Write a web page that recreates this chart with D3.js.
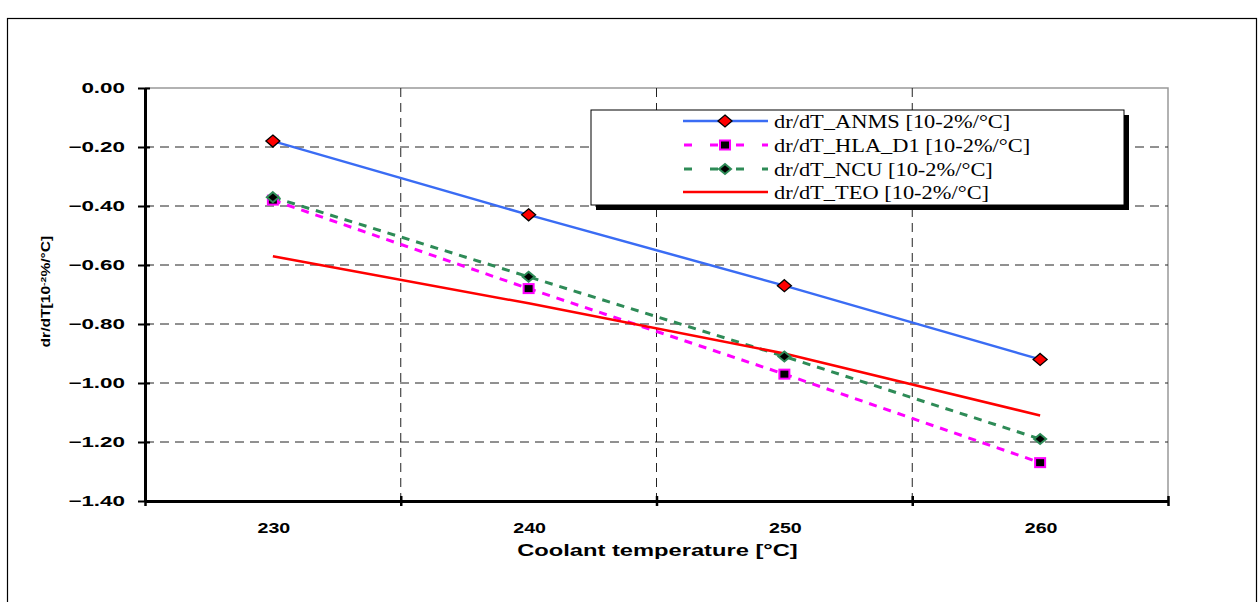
<!DOCTYPE html>
<html>
<head>
<meta charset="utf-8">
<script src="https://cdn.jsdelivr.net/npm/d3@7"></script>
<style>
    body { margin: 0; background: #fff; }
    .font { font-family: "Liberation Sans", Arial, sans-serif; }
    .y-tick-label { font-size: 14px; font-weight: bold; }
    .x-tick-label { font-size: 14px; font-weight: bold; }
    .axis-title { font-size: 16px; font-weight: bold; }
    .legend-text { font-family: "Liberation Serif", "Times New Roman", serif; font-size: 19px; }
</style>
</head>
<body>
<svg id="chart" width="1259" height="602"></svg>
<script>
const SVG_WIDTH = 1259;
const SVG_HEIGHT = 602;

// data
var temperatures = [230, 240, 250, 260];
var anmsValues = [-0.18, -0.43, -0.67, -0.92];
var hlaValues = [-0.38, -0.68, -0.97, -1.27];
var ncuValues = [-0.37, -0.64, -0.91, -1.19];
var teoValues = [-0.57, -0.73, -0.90, -1.11];
var seriesNames = ["dr/dT_ANMS [10-2%/°C]", "dr/dT_HLA_D1 [10-2%/°C]",
                   "dr/dT_NCU [10-2%/°C]", "dr/dT_TEO [10-2%/°C]"];
var yTickValues = [0, -0.2, -0.4, -0.6, -0.8, -1.0, -1.2, -1.4];
var xBoundaries = [225, 235, 245, 255, 265];

var seriesStyle = [
    {color: "#3a6cf4", dash: null, width: 2.5, marker: "diamond"},
    {color: "#ff00ff", dash: "8,7", width: 3, marker: "square"},
    {color: "#2e8b57", dash: "8,7", width: 3, marker: "smalldiamond"},
    {color: "#ff0000", dash: null, width: 2.5, marker: null}
];
var seriesValues = [anmsValues, hlaValues, ncuValues, teoValues];

// widen glyphs (the original text is horizontally stretched)
function stretch(sel, factor) {
    sel.each(function() {
        var len = this.getComputedTextLength();
        d3.select(this)
            .attr("textLength", len * factor)
            .attr("lengthAdjust", "spacingAndGlyphs");
    });
}

var svg = d3.select("#chart");

// outer frame
svg.append("rect")
    .attr("x", 7.5).attr("y", 18.5)
    .attr("width", 1249).attr("height", 600)
    .attr("fill", "none").attr("stroke", "#000").attr("stroke-width", 1.2);

var xScale = d3.scaleLinear().domain([225, 265]).range([145, 1168]);
var yScale = d3.scaleLinear().domain([-1.4, 0]).range([501, 88]);

// plot area border (top / right, gray)
svg.append("path")
    .attr("d", "M" + xScale(225) + "," + yScale(0) + "H" + xScale(265) + "V" + yScale(-1.4))
    .attr("fill", "none").attr("stroke", "#999").attr("stroke-width", 1.5);

// grid
var grid = svg.append("g");
grid.selectAll(".hgrid")
    .data(yTickValues.slice(1, -1))
    .enter().append("line")
    .attr("x1", xScale(225)).attr("x2", xScale(265))
    .attr("y1", d => yScale(d)).attr("y2", d => yScale(d))
    .attr("stroke", "#222").attr("stroke-width", 1).attr("stroke-dasharray", "9,6");
grid.selectAll(".vgrid")
    .data(xBoundaries.slice(1, -1))
    .enter().append("line")
    .attr("x1", d => xScale(d)).attr("x2", d => xScale(d))
    .attr("y1", yScale(0)).attr("y2", yScale(-1.4))
    .attr("stroke", "#222").attr("stroke-width", 1).attr("stroke-dasharray", "9,6");

// y axis
var yAxis = d3.axisLeft(yScale)
    .tickValues(yTickValues)
    .tickSizeInner(7)
    .tickSizeOuter(0)
    .tickPadding(13)
    .tickFormat(d3.format(".2f"));
var yAxisGroup = svg.append("g")
    .attr("transform", "translate(" + xScale(225) + ",0)")
    .classed("font", true)
    .call(yAxis);
yAxisGroup.select(".domain").attr("stroke-width", 3);
yAxisGroup.selectAll(".tick line").attr("stroke-width", 2).attr("x2", 5).attr("x1", -7);
var yTickText = yAxisGroup.selectAll(".tick text")
    .classed("y-tick-label", true).attr("fill", "#000")
    .text(d => d === 0 ? "0.00" : d3.format(".2f")(d));
stretch(yTickText, 1.6);

// x axis: ticks at category boundaries, labels centered
var xAxis = d3.axisBottom(xScale)
    .tickValues(xBoundaries)
    .tickSizeInner(5)
    .tickSizeOuter(0)
    .tickFormat("");
var xAxisGroup = svg.append("g")
    .attr("transform", "translate(0," + yScale(-1.4) + ")")
    .call(xAxis);
xAxisGroup.select(".domain").attr("stroke-width", 3);
xAxisGroup.selectAll(".tick line").attr("stroke-width", 2.5).attr("y1", -5).attr("y2", 5);

var xTickText = svg.append("g").selectAll("text")
    .data(temperatures)
    .enter().append("text")
    .classed("font x-tick-label", true)
    .attr("x", d => xScale(d) + 1)
    .attr("y", 533)
    .attr("text-anchor", "middle")
    .text(d => d);
stretch(xTickText, 1.4);

var xTitle = svg.append("text")
    .classed("font axis-title", true)
    .attr("x", xScale(245) + 1)
    .attr("y", 556)
    .attr("text-anchor", "middle")
    .text("Coolant temperature [°C]");
stretch(xTitle, 1.48);

var yLabel = svg.append("text")
    .classed("font", true)
    .attr("transform", "translate(50," + yScale(-0.69) + ") rotate(-90)")
    .attr("text-anchor", "middle")
    .style("font-size", "12px").style("font-weight", "bold");
yLabel.append("tspan").text("dr/dT[10");
yLabel.append("tspan").attr("baseline-shift", "super").style("font-size", "8px").text("-2");
yLabel.append("tspan").text("%/°C]");
stretch(yLabel, 1.3);

// markers
function drawMarker(g, type, x, y, color) {
    if (type === "diamond") {
        g.append("path")
            .attr("d", "M" + x + "," + (y - 6) + "L" + (x + 7) + "," + y + "L" + x + "," + (y + 6) + "L" + (x - 7) + "," + y + "Z")
            .attr("fill", "#ff0000").attr("stroke", "#000").attr("stroke-width", 1.3);
    } else if (type === "square") {
        g.append("rect")
            .attr("x", x - 5).attr("y", y - 4.5).attr("width", 10).attr("height", 9)
            .attr("fill", "#000").attr("stroke", color).attr("stroke-width", 2);
    } else if (type === "smalldiamond") {
        g.append("path")
            .attr("d", "M" + x + "," + (y - 5) + "L" + (x + 6) + "," + y + "L" + x + "," + (y + 5) + "L" + (x - 6) + "," + y + "Z")
            .attr("fill", "#000").attr("stroke", color).attr("stroke-width", 2);
    }
}

var line = d3.line()
    .x(d => xScale(d[0]))
    .y(d => yScale(d[1]));

var lineGroup = svg.append("g");
for (var i = 0; i < seriesValues.length; i++) {
    var pts = temperatures.map((t, j) => [t, seriesValues[i][j]]);
    var st = seriesStyle[i];
    var p = lineGroup.append("path")
        .datum(pts)
        .attr("d", line)
        .attr("fill", "none")
        .attr("stroke", st.color)
        .attr("stroke-width", st.width);
    if (st.dash) p.attr("stroke-dasharray", st.dash);
}
for (var i = 0; i < seriesValues.length; i++) {
    var st = seriesStyle[i];
    if (!st.marker) continue;
    for (var j = 0; j < temperatures.length; j++) {
        drawMarker(lineGroup, st.marker, xScale(temperatures[j]), yScale(seriesValues[i][j]), st.color);
    }
}

// legend
var legendBox = {x: 591, y: 110, w: 533, h: 95};
var legend = svg.append("g");
legend.append("rect")
    .attr("x", legendBox.x + 5).attr("y", legendBox.y + 5)
    .attr("width", legendBox.w).attr("height", legendBox.h)
    .attr("fill", "#000");
legend.append("rect")
    .attr("x", legendBox.x).attr("y", legendBox.y)
    .attr("width", legendBox.w).attr("height", legendBox.h)
    .attr("fill", "#fff").attr("stroke", "#000").attr("stroke-width", 1);
var rowY = [121, 145, 169, 192];
seriesNames.forEach(function(name, i) {
    var st = seriesStyle[i];
    var l = legend.append("line")
        .attr("x1", 683).attr("x2", 768)
        .attr("y1", rowY[i]).attr("y2", rowY[i])
        .attr("stroke", st.color).attr("stroke-width", st.width);
    if (st.dash) l.attr("stroke-dasharray", "8,18").attr("stroke-dashoffset", -1);
    if (st.marker) drawMarker(legend, st.marker, 725, rowY[i], st.color);
    var t = legend.append("text")
        .classed("legend-text", true)
        .attr("x", 774).attr("y", rowY[i])
        .attr("dominant-baseline", "central")
        .text(name);
    stretch(t, 1.18);
});
</script>
</body>
</html>
